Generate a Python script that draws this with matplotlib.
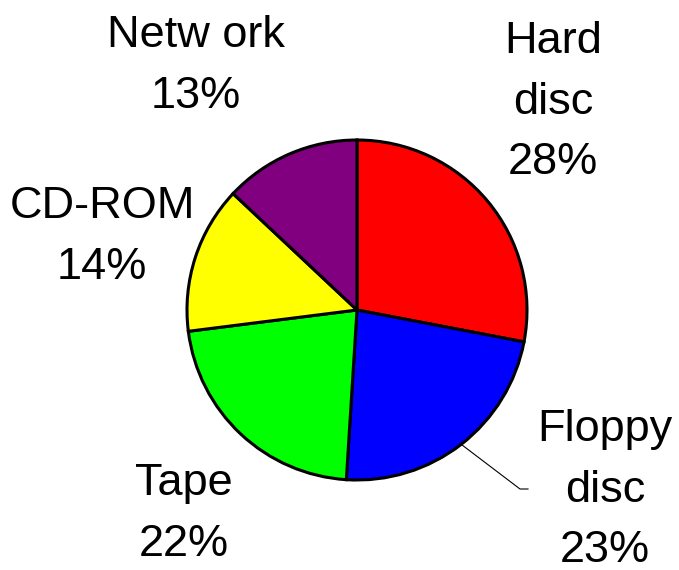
import matplotlib.pyplot as plt
import numpy as np

plt.rcParams["font.family"] = ["Liberation Sans", "DejaVu Sans"]

labels = ["Hard\ndisc", "Floppy\ndisc", "Tape", "CD-ROM", "Netw ork"]
shares = [28, 23, 22, 14, 13]
colors = ["#FF0000", "#0000FF", "#00FF00", "#FFFF00", "#800080"]

# label block centres in pixel space (y measured from the top)
label_pos = [(553, 102), (605, 490), (184, 514), (102, 237), (196, 66)]

W, H = 679, 570
cx, cy, r = 357, 310, 170

fig = plt.figure(figsize=(W / 100, H / 100), dpi=100)
ax = fig.add_axes([0, 0, 1, 1])

wedges, _ = ax.pie(
    shares,
    colors=colors,
    startangle=90,
    counterclock=False,
    center=(cx, H - cy),
    radius=r,
    frame=True,
    wedgeprops={"edgecolor": "black", "linewidth": 2.2},
)

for lab, val, (lx, ly) in zip(labels, shares, label_pos):
    ax.text(lx, H - ly, f"{lab}\n{val}%", ha="center", va="center",
            fontsize=32.5, linespacing=1.6)

# leader line for the floppy disc label
w = wedges[1]
mid = np.deg2rad((w.theta1 + w.theta2) / 2)
x0 = cx + r * np.cos(mid)
y0 = H - cy + r * np.sin(mid)
ax.plot([x0, 520, 528], [y0, H - 489, H - 489], color="black", lw=0.8)

ax.set_xlim(0, W)
ax.set_ylim(0, H)
ax.set_aspect("equal")
ax.axis("off")

fig.savefig("out.png", dpi=100)
